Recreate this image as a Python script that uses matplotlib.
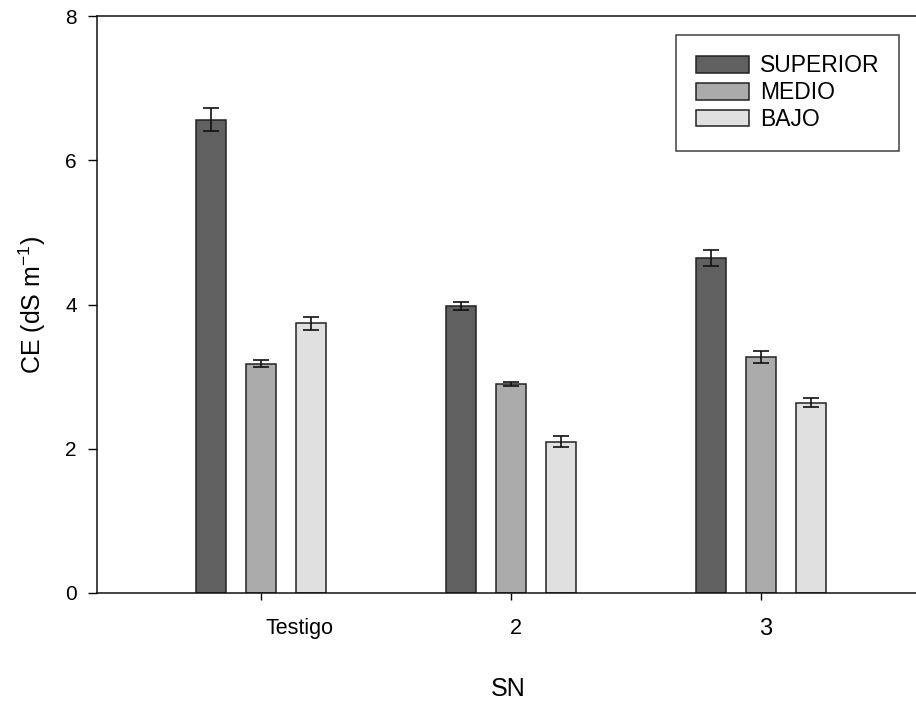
import matplotlib
matplotlib.use("Agg")
import matplotlib.pyplot as plt
import matplotlib.transforms as mtransforms
import numpy as np

plt.rcParams['font.family'] = ['Liberation Sans', 'DejaVu Sans']
plt.rcParams['mathtext.fontset'] = 'custom'
plt.rcParams['mathtext.rm'] = 'Liberation Sans'

categories = ["Testigo", "2", "3"]
series_names = ["SUPERIOR", "MEDIO", "BAJO"]
superior = [6.56, 3.98, 4.65]
medio = [3.18, 2.90, 3.27]
bajo = [3.74, 2.10, 2.64]
superior_err = [0.16, 0.05, 0.11]
medio_err = [0.05, 0.03, 0.08]
bajo_err = [0.09, 0.07, 0.06]
yticks = [0, 2, 4, 6, 8]

values = [superior, medio, bajo]
errors = [superior_err, medio_err, bajo_err]
colors = ["#606060", "#ababab", "#e0e0e0"]

W, H = 916, 706
fig = plt.figure(figsize=(W / 100, H / 100), dpi=100)
ax = fig.add_axes([97 / W, (H - 593) / H, (920 - 97) / W, (593 - 16) / H])

x = np.arange(len(categories))
width = 0.12
offsets = [-0.2, 0.0, 0.2]
for vals, errs, col, name, off in zip(values, errors, colors, series_names, offsets):
    ax.bar(x + off, vals, width, color=col, edgecolor="#222222", linewidth=1.1,
           label=name, zorder=2)
    ax.errorbar(x + off, vals, yerr=errs, fmt="none", ecolor="#111111",
                elinewidth=1.2, capsize=6, capthick=1.2, zorder=3)

ax.set_ylim(0, 8)
ax.set_xlim(-0.656, 2.636)
ax.set_yticks(yticks)
ax.set_yticklabels([str(t) for t in yticks], fontsize=15)
ax.set_xticks(x)
ax.set_xticklabels(categories, fontsize=15.5)
ax.tick_params(axis="y", direction="out", length=6.5, width=1.0, pad=8)
ax.tick_params(axis="x", direction="out", length=5, width=1.0, pad=13)

shifts = [39, 5, 5]
for lab, dx in zip(ax.get_xticklabels(), shifts):
    lab.set_transform(lab.get_transform() + mtransforms.ScaledTranslation(dx / 100, 0, fig.dpi_scale_trans))
ax.get_xticklabels()[2].set_fontsize(17)

for s in ["left", "bottom", "top", "right"]:
    ax.spines[s].set_linewidth(1.1)
    ax.spines[s].set_color("#111111")

ax.set_ylabel("CE (dS m$^{\\mathregular{-1}}$)", fontsize=18, labelpad=12)
ax.set_xlabel("SN", fontsize=18, labelpad=27)

leg = ax.legend(loc="upper right", bbox_to_anchor=(899 / W, 1 - 35 / H),
                bbox_transform=fig.transFigure, fontsize=16.5, frameon=True,
                fancybox=False, edgecolor="#111111", handlelength=2.3,
                handleheight=0.72, handletextpad=0.5, labelspacing=0.17,
                borderpad=0.85, borderaxespad=0)
leg.get_frame().set_linewidth(1.1)

fig.savefig("out.png", dpi=100)
